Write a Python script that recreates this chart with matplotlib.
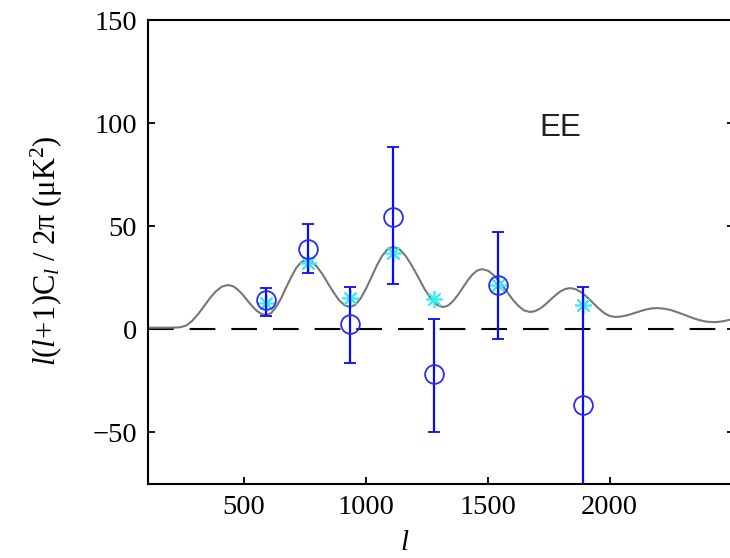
import matplotlib
matplotlib.use("Agg")
import matplotlib.pyplot as plt

# ---- data ----
band_l = [592, 764, 936, 1112, 1280, 1542, 1891]
band_val = [14.2, 39.0, 2.6, 54.5, -21.7, 21.5, -36.5]
err_hi = [20.0, 51.0, 20.5, 88.3, 5.0, 47.0, 20.5]
err_lo = [6.5, 27.3, -16.4, 22.0, -49.8, -4.7, -120.0]
model_band = [12.8, 32.0, 15.0, 37.0, 14.7, 21.5, 11.8]

theory_l = [108, 150, 190, 215, 239,
            264, 288, 313, 338, 362, 387, 411, 436,
            456, 475, 495, 514, 534, 553, 573, 592,
            613, 633, 654, 674, 695, 715, 736, 756,
            779, 801, 824, 846, 869, 891, 914, 936,
            958, 980, 1002, 1024, 1046, 1068, 1090, 1112,
            1138, 1163, 1189, 1215, 1240, 1266, 1291, 1317,
            1337, 1357, 1377, 1397, 1417, 1437, 1457, 1477,
            1502, 1526, 1551, 1576, 1600, 1625, 1649, 1674,
            1695, 1715, 1736, 1756, 1777, 1797, 1818, 1838,
            1861, 1884, 1907, 1930, 1953, 1976, 1999, 2022,
            2044, 2065, 2087, 2108, 2130, 2151, 2173, 2194,
            2223, 2252, 2280, 2309, 2338, 2367, 2395, 2424,
            2445, 2466, 2487, 2508]
theory_val = [0.8, 0.8, 0.8, 0.85, 1.0,
              1.78, 3.99, 7.33, 11.25, 15.17, 18.51, 20.72, 21.5,
              20.95, 19.37, 16.99, 14.2, 11.41, 9.03, 7.45, 6.9,
              7.91, 10.80, 15.15, 20.25, 25.35, 29.70, 32.59, 33.6,
              32.73, 30.27, 26.55, 22.2, 17.85, 14.13, 11.67, 10.8,
              11.91, 15.06, 19.82, 25.4, 30.98, 35.74, 38.89, 40.0,
              38.89, 35.74, 30.98, 25.4, 19.82, 15.06, 11.91, 10.8,
              11.5, 13.49, 16.49, 20.0, 23.51, 26.51, 28.5, 29.2,
              28.41, 26.16, 22.77, 18.8, 14.83, 11.44, 9.19, 8.4,
              8.84, 10.09, 11.98, 14.2, 16.42, 18.31, 19.56, 20.0,
              19.47, 17.96, 15.67, 13.0, 10.33, 8.04, 6.53, 6.0,
              6.16, 6.63, 7.33, 8.15, 8.97, 9.67, 10.14, 10.3,
              10.04, 9.31, 8.20, 6.9, 5.60, 4.49, 3.76, 3.5,
              3.6, 3.95, 4.5, 5.0]

x_ticks = [500, 1000, 1500, 2000]
y_ticks = [-50, 0, 50, 100, 150]
panel_label = "EE"

plt.rcParams['mathtext.fontset'] = 'custom'
plt.rcParams['mathtext.rm'] = 'Liberation Serif'
plt.rcParams['mathtext.it'] = 'Liberation Serif:italic'
plt.rcParams['mathtext.bf'] = 'Liberation Serif:bold'
plt.rcParams['lines.scale_dashes'] = False

fig = plt.figure(figsize=(7.30, 5.58), dpi=100)
W, H = 730.0, 558.0
left_px, right_px, top_px, bot_px = 148, 733.6, 20, 484
ax = fig.add_axes([left_px / W, (H - bot_px) / H, (right_px - left_px) / W, (bot_px - top_px) / H])

# theory curve
ax.plot(theory_l, theory_val, color='#777777', lw=1.5, zorder=2, solid_joinstyle='round')
# zero line
ax.axhline(0, color='black', lw=1.5, dashes=(18.5, 11.5), zorder=1)

# model band powers (cyan asterisks)
ax.plot(band_l, model_band, linestyle='none', marker=(8, 2, 0), markersize=12,
        markeredgewidth=1.2, color='#30f0f0', zorder=3)

# data with error bars
yerr_low = [v - lo for v, lo in zip(band_val, err_lo)]
yerr_high = [hi - v for v, hi in zip(band_val, err_hi)]
ax.errorbar(band_l, band_val, yerr=[yerr_low, yerr_high], fmt='o', color='#0a0aff',
            markerfacecolor='none', markeredgecolor='#2a2aff', markersize=13.5,
            markeredgewidth=1.3, elinewidth=1.6, capsize=4, capthick=1.6, zorder=4)

ax.set_xlim(108, 2508)
ax.set_ylim(-75, 150)
ax.set_xticks(x_ticks)
ax.set_yticks(y_ticks)
ax.set_xticklabels([str(t) for t in x_ticks])
ax.set_yticklabels(["\u221250" if t == -50 else str(t) for t in y_ticks])

for lab in ax.get_xticklabels() + ax.get_yticklabels():
    lab.set_fontfamily('Liberation Serif')
    lab.set_fontsize(20.5)

ax.tick_params(axis='both', direction='in', length=5, width=1.3, pad=8,
               top=False, right=True)
for side in ['left', 'bottom', 'top']:
    ax.spines[side].set_linewidth(1.5)
ax.spines['right'].set_visible(False)

ax.text(1796, 93.7, panel_label, ha='center', va='baseline',
        fontsize=22.5, family='Liberation Sans', color='#222222')

ax.set_xlabel(r'$l$', fontsize=21)
ax.xaxis.label.set_va('bottom')
ax.xaxis.set_label_coords((405 - left_px) / (right_px - left_px), (bot_px - 556) / (bot_px - top_px))

ax.set_ylabel(r'$l(l\!+\!1)\mathrm{C}_l\ /\ 2\mathrm{\pi}\ (\mathrm{\mu K}^2)$', fontsize=22)
ax.yaxis.label.set_va('center')
ax.yaxis.set_label_coords((47 - left_px) / (right_px - left_px), (bot_px - 251) / (bot_px - top_px))

fig.savefig('out.png', dpi=100)
